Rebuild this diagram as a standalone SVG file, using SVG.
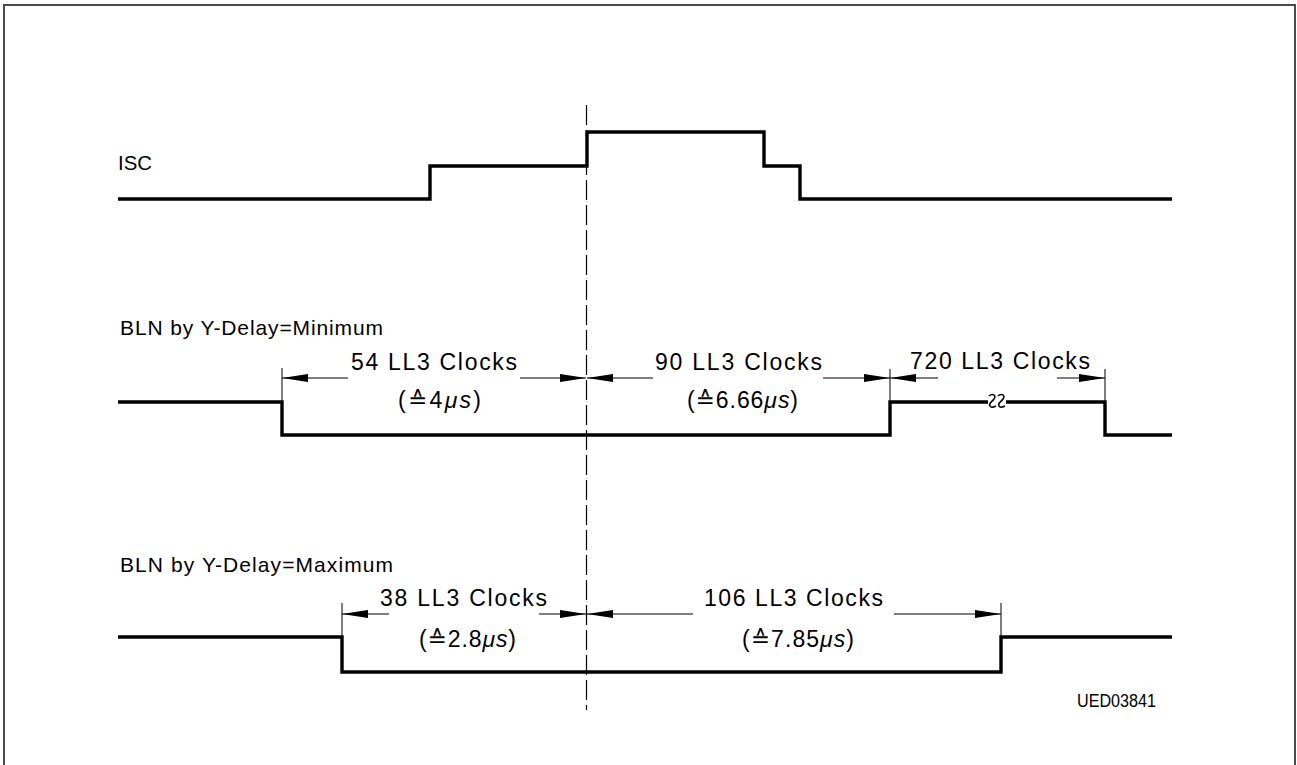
<svg xmlns="http://www.w3.org/2000/svg" width="1297" height="765" viewBox="0 0 1297 765">
<defs>
<style>
.t{font-family:"Liberation Sans","DejaVu Sans",sans-serif;fill:#000;}
.lbl{font-size:21px;}
.dim{font-size:23px;}
.sig{fill:none;stroke:#000;stroke-width:3.4;stroke-linejoin:miter;stroke-linecap:butt;}
.dl{stroke:#000;stroke-width:1.1;fill:none;}
.ext{stroke:#000;stroke-width:1;fill:none;}
.it{font-style:italic;}
</style>
<marker id="ah" viewBox="0 0 26 8" refX="26" refY="4" markerWidth="26" markerHeight="8" markerUnits="userSpaceOnUse" orient="auto">
<path d="M0,0 L26,4 L0,8 z" fill="#000"/>
</marker>
</defs>
<rect x="0" y="0" width="1297" height="765" fill="#fff"/>
<path d="M4,770 V5 H1295 V770" fill="none" stroke="#4a4a4a" stroke-width="2"/>

<g id="isc">
<text class="t" x="118" y="170" font-size="20" textLength="34" lengthAdjust="spacingAndGlyphs">ISC</text>
<path class="sig" d="M118,199 H430 V166 H587 V132 H764 V166 H800 V199 H1172"/>
</g>

<g id="bln-min">
<text class="t lbl" x="120" y="335" textLength="263" lengthAdjust="spacing">BLN by Y-Delay=Minimum</text>
<path class="sig" d="M118,402 H282 V435 H890 V402 H988 M1006,402 H1105 V435 H1172"/>
<path d="M989,396 c3,-3 8,-1 5,3 c-2,3 -6,4 -4,7 c1,2 4,1 6,0 M998,396 c3,-3 8,-1 5,3 c-2,3 -6,4 -4,7 c1,2 4,1 6,0" fill="none" stroke="#000" stroke-width="1.6"/>
</g>

<g id="bln-max">
<text class="t lbl" x="120" y="572" textLength="273" lengthAdjust="spacing">BLN by Y-Delay=Maximum</text>
<path class="sig" d="M118,637 H342 V672 H1001 V637 H1172"/>
</g>

<g id="ref-line">
<line x1="586.5" y1="105" x2="586.5" y2="710" stroke="#000" stroke-width="1.2" stroke-dasharray="20 5"/>
</g>

<g id="connectors">
<line class="ext" x1="282" y1="368" x2="282" y2="402"/>
<line class="ext" x1="890" y1="369" x2="890" y2="402"/>
<line class="ext" x1="1105" y1="369" x2="1105" y2="402"/>
<line class="ext" x1="342" y1="603" x2="342" y2="637"/>
<line class="ext" x1="1001" y1="603" x2="1001" y2="637"/>

<line class="dl" x1="348" y1="378" x2="282" y2="378" marker-end="url(#ah)"/>
<line class="dl" x1="520" y1="378" x2="586" y2="378" marker-end="url(#ah)"/>
<line class="dl" x1="653" y1="378" x2="587" y2="378" marker-end="url(#ah)"/>
<line class="dl" x1="823" y1="378" x2="890" y2="378" marker-end="url(#ah)"/>
<line class="dl" x1="938" y1="378" x2="890" y2="378" marker-end="url(#ah)"/>
<line class="dl" x1="1057" y1="378" x2="1105" y2="378" marker-end="url(#ah)"/>

<line class="dl" x1="389" y1="614" x2="342" y2="614" marker-end="url(#ah)"/>
<line class="dl" x1="539" y1="614" x2="586" y2="614" marker-end="url(#ah)"/>
<line class="dl" x1="693" y1="614" x2="587" y2="614" marker-end="url(#ah)"/>
<line class="dl" x1="894" y1="614" x2="1001" y2="614" marker-end="url(#ah)"/>
</g>

<g id="dim-54">
<text class="t dim" x="351" y="370" textLength="166" lengthAdjust="spacing">54 LL3 Clocks</text>
<text class="t dim" x="398" y="408" textLength="83" lengthAdjust="spacing">(≙4<tspan class="it">μs</tspan>)</text>
</g>
<g id="dim-90">
<text class="t dim" x="655" y="370" textLength="167" lengthAdjust="spacing">90 LL3 Clocks</text>
<text class="t dim" x="687" y="408" textLength="111" lengthAdjust="spacing">(≙6.66<tspan class="it">μs</tspan>)</text>
</g>
<g id="dim-720">
<text class="t dim" x="910" y="369" textLength="180" lengthAdjust="spacing">720 LL3 Clocks</text>
</g>
<g id="dim-38">
<text class="t dim" x="380" y="606" textLength="167" lengthAdjust="spacing">38 LL3 Clocks</text>
<text class="t dim" x="419" y="647" textLength="97" lengthAdjust="spacing">(≙2.8<tspan class="it">μs</tspan>)</text>
</g>
<g id="dim-106">
<text class="t dim" x="704" y="606" textLength="179" lengthAdjust="spacing">106 LL3 Clocks</text>
<text class="t dim" x="742" y="647" textLength="112" lengthAdjust="spacing">(≙7.85<tspan class="it">μs</tspan>)</text>
</g>

<g id="code">
<text class="t" x="1077" y="707" font-size="18" textLength="79" lengthAdjust="spacingAndGlyphs">UED03841</text>
</g>
</svg>
